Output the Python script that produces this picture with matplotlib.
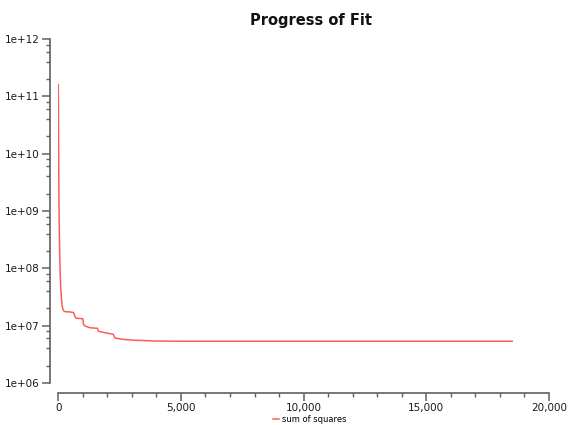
import matplotlib
matplotlib.use("Agg")
import matplotlib.pyplot as plt
from matplotlib.ticker import LogLocator, FixedLocator, MultipleLocator, FuncFormatter

# Data
iterations = [0, 5, 12, 20, 30, 45, 60, 80, 100, 130, 160, 200, 250, 300, 450, 620, 680, 720,
              1000, 1030, 1100, 1300, 1600, 1640, 1800, 2000, 2240, 2310, 2600, 3000, 3500,
              3900, 5000, 10000, 15000, 18500]
sum_of_squares = [1.6e11, 6e10, 1.5e10, 4e9, 1.2e9, 4e8, 1.6e8, 8e7, 4.5e7, 3e7, 2.2e7, 1.85e7,
                  1.78e7, 1.75e7, 1.74e7, 1.7e7, 1.45e7, 1.35e7, 1.32e7, 1.05e7, 9.8e6, 9.2e6,
                  9.0e6, 8.0e6, 7.7e6, 7.4e6, 7.1e6, 6.1e6, 5.8e6, 5.6e6, 5.5e6, 5.4e6, 5.35e6,
                  5.35e6, 5.35e6, 5.35e6]
series_label = "sum of squares"
title = "Progress of Fit"
y_ticks = [1e6, 1e7, 1e8, 1e9, 1e10, 1e11, 1e12]
y_tick_labels = ["1e+06", "1e+07", "1e+08", "1e+09", "1e+10", "1e+11", "1e+12"]
x_ticks = [0, 5000, 10000, 15000, 20000]

fig = plt.figure(figsize=(5.68, 4.25), dpi=100)
ax = fig.add_axes([0.1026, 0.0988, 0.8639, 0.8094])

line, = ax.plot(iterations, sum_of_squares, color="#ff5a5a", linewidth=1.1, label=series_label)
ax.set_yscale("log")
ax.set_ylim(1e6, 1e12)
ax.set_xlim(0, 20000)

ax.yaxis.set_major_locator(FixedLocator(y_ticks))
ax.set_yticklabels(y_tick_labels)
ax.yaxis.set_minor_locator(LogLocator(base=10, subs=[2, 4, 6, 8]))
ax.yaxis.set_minor_formatter(FuncFormatter(lambda v, p: ""))

ax.xaxis.set_major_locator(FixedLocator(x_ticks))
ax.xaxis.set_minor_locator(MultipleLocator(1000))
ax.xaxis.set_major_formatter(FuncFormatter(lambda v, p: f"{int(v):,}"))

for s in ["top", "right"]:
    ax.spines[s].set_visible(False)
ax.spines["left"].set_position(("outward", 6))
ax.spines["bottom"].set_position(("outward", 7))
for s in ["left", "bottom"]:
    ax.spines[s].set_color("#606060")
    ax.spines[s].set_linewidth(1.2)

ax.tick_params(axis="both", which="major", length=5.5, width=1.1, color="#606060",
               labelsize=7.5, labelcolor="#1a1a1a", direction="out")
ax.tick_params(axis="both", which="minor", length=2.8, width=1.0, color="#606060", direction="out")
ax.tick_params(axis="x", which="major", pad=2)
ax.tick_params(axis="y", which="major", pad=2)

fig.text(311 / 568, 1 - 20 / 425, title, fontsize=10.5, fontweight="bold",
         ha="center", va="center", color="#111111")

fig.legend(handles=[line], labels=[series_label], loc="center", bbox_to_anchor=(0.545, 0.014),
           frameon=False, fontsize=6.0, handlelength=0.8, handletextpad=0.3, borderpad=0)

fig.savefig("out.png", dpi=100)
